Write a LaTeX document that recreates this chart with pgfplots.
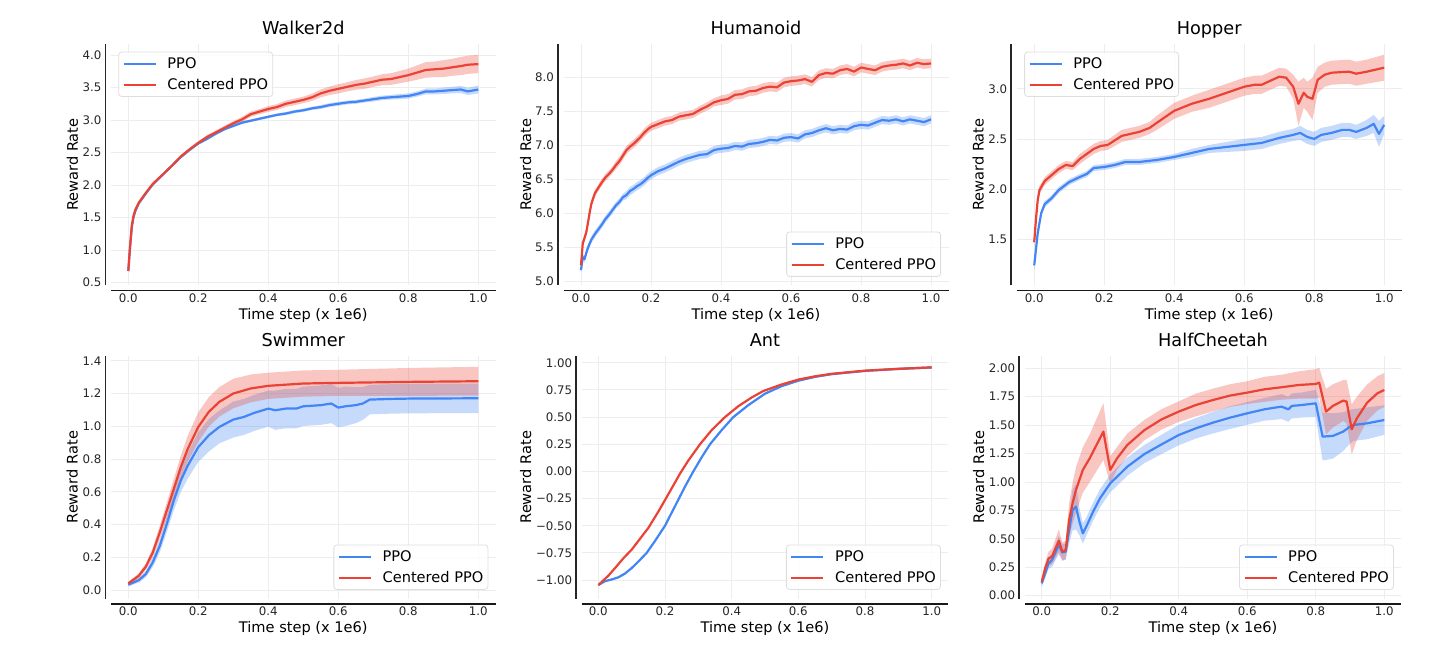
\documentclass[border=0pt]{standalone}
\usepackage{fontspec}
\setmainfont{DejaVu Sans}
\usepackage{pgfplots}
\usepackage{pgfplotstable}
\pgfplotsset{compat=1.18}
\usepgfplotslibrary{fillbetween}

\definecolor{cblue}{HTML}{4285F4}
\definecolor{cred}{HTML}{EA4335}
\newcommand{\tickfont}{\fontsize{11.8}{14}\selectfont}
\newcommand{\labfont}{\fontsize{14.6}{17}\selectfont}
\newcommand{\titfont}{\fontsize{17.7}{21}\selectfont}

% ---------------- data ----------------
\pgfplotstableread{
x m w
0.000 0.68 0.01
0.005 1.05 0.01
0.010 1.35 0.01
0.015 1.51 0.01
0.020 1.60 0.01
0.030 1.72 0.01
0.050 1.87 0.01
0.070 2.01 0.015
0.100 2.17 0.015
0.125 2.30 0.015
0.150 2.43 0.02
0.175 2.54 0.02
0.200 2.64 0.02
0.225 2.71 0.02
0.250 2.79 0.02
0.275 2.86 0.02
0.300 2.91 0.02
0.325 2.96 0.02
0.350 2.99 0.02
0.375 3.02 0.02
0.400 3.05 0.02
0.425 3.08 0.02
0.450 3.10 0.025
0.475 3.13 0.025
0.500 3.15 0.025
0.525 3.18 0.025
0.550 3.20 0.03
0.575 3.23 0.03
0.600 3.25 0.03
0.625 3.27 0.03
0.650 3.28 0.03
0.675 3.30 0.03
0.700 3.32 0.035
0.725 3.34 0.035
0.750 3.35 0.035
0.775 3.36 0.04
0.800 3.37 0.04
0.825 3.40 0.04
0.850 3.44 0.045
0.875 3.44 0.045
0.900 3.45 0.05
0.925 3.46 0.05
0.950 3.47 0.055
0.970 3.44 0.055
1.000 3.47 0.06
}\walkerP
\pgfplotstableread{
x m w
0.000 0.68 0.01
0.005 1.05 0.01
0.010 1.38 0.01
0.015 1.53 0.01
0.020 1.62 0.01
0.030 1.73 0.01
0.050 1.88 0.01
0.070 2.02 0.015
0.100 2.17 0.015
0.125 2.30 0.015
0.150 2.44 0.02
0.175 2.55 0.02
0.200 2.65 0.025
0.225 2.74 0.03
0.250 2.81 0.03
0.275 2.88 0.035
0.300 2.95 0.035
0.325 3.01 0.04
0.350 3.09 0.04
0.375 3.13 0.04
0.400 3.17 0.045
0.425 3.20 0.045
0.450 3.25 0.05
0.475 3.28 0.05
0.500 3.31 0.05
0.525 3.35 0.055
0.550 3.41 0.06
0.575 3.45 0.065
0.600 3.48 0.07
0.625 3.51 0.07
0.650 3.54 0.075
0.675 3.56 0.08
0.700 3.59 0.08
0.725 3.62 0.085
0.750 3.63 0.09
0.775 3.66 0.095
0.800 3.69 0.10
0.825 3.73 0.11
0.850 3.77 0.12
0.875 3.78 0.12
0.900 3.79 0.13
0.925 3.81 0.13
0.950 3.83 0.14
0.970 3.85 0.14
1.000 3.86 0.14
}\walkerC

\pgfplotstableread{
x m w
0.000 5.17 0.05
0.005 5.36 0.05
0.010 5.33 0.05
0.015 5.42 0.05
0.020 5.50 0.05
0.030 5.62 0.05
0.040 5.70 0.05
0.050 5.77 0.05
0.060 5.84 0.05
0.070 5.92 0.05
0.080 5.98 0.05
0.090 6.05 0.05
0.100 6.12 0.05
0.110 6.17 0.05
0.120 6.24 0.05
0.130 6.27 0.06
0.140 6.33 0.06
0.150 6.36 0.06
0.160 6.40 0.06
0.170 6.43 0.06
0.180 6.47 0.06
0.190 6.52 0.06
0.200 6.56 0.06
0.220 6.62 0.06
0.240 6.66 0.06
0.260 6.71 0.06
0.280 6.76 0.06
0.300 6.80 0.06
0.320 6.83 0.06
0.340 6.86 0.06
0.360 6.87 0.06
0.380 6.93 0.06
0.400 6.95 0.06
0.420 6.96 0.06
0.440 6.99 0.06
0.460 6.98 0.06
0.480 7.02 0.06
0.500 7.03 0.06
0.520 7.05 0.06
0.540 7.08 0.06
0.560 7.07 0.06
0.580 7.11 0.06
0.600 7.12 0.06
0.620 7.10 0.06
0.640 7.16 0.06
0.660 7.18 0.06
0.680 7.22 0.06
0.700 7.25 0.06
0.720 7.22 0.06
0.740 7.24 0.06
0.760 7.23 0.06
0.780 7.28 0.06
0.800 7.30 0.06
0.820 7.29 0.06
0.840 7.33 0.06
0.860 7.37 0.06
0.880 7.36 0.06
0.900 7.38 0.06
0.920 7.35 0.06
0.940 7.38 0.06
0.960 7.36 0.06
0.980 7.34 0.06
1.000 7.38 0.06
}\humP
\pgfplotstableread{
x m w
0.000 5.24 0.05
0.005 5.56 0.05
0.010 5.64 0.05
0.015 5.72 0.05
0.020 5.87 0.05
0.025 6.02 0.05
0.030 6.15 0.05
0.040 6.30 0.05
0.050 6.38 0.05
0.060 6.46 0.05
0.070 6.53 0.05
0.080 6.58 0.05
0.090 6.64 0.05
0.100 6.71 0.06
0.110 6.77 0.06
0.120 6.85 0.06
0.130 6.93 0.06
0.140 6.98 0.06
0.150 7.02 0.06
0.160 7.07 0.06
0.170 7.12 0.06
0.180 7.18 0.06
0.190 7.23 0.06
0.200 7.27 0.06
0.220 7.31 0.06
0.240 7.35 0.06
0.260 7.37 0.06
0.280 7.42 0.06
0.300 7.44 0.06
0.320 7.46 0.06
0.340 7.52 0.06
0.360 7.57 0.06
0.380 7.63 0.06
0.400 7.66 0.07
0.420 7.68 0.07
0.440 7.74 0.07
0.460 7.75 0.07
0.480 7.79 0.07
0.500 7.80 0.07
0.520 7.84 0.07
0.540 7.86 0.07
0.560 7.85 0.07
0.580 7.92 0.07
0.600 7.94 0.07
0.620 7.95 0.07
0.640 7.97 0.07
0.660 7.93 0.07
0.680 8.03 0.07
0.700 8.06 0.07
0.720 8.05 0.07
0.740 8.10 0.07
0.760 8.12 0.07
0.780 8.08 0.07
0.800 8.14 0.07
0.820 8.12 0.07
0.840 8.10 0.07
0.860 8.15 0.07
0.880 8.17 0.07
0.900 8.18 0.07
0.920 8.20 0.07
0.940 8.17 0.07
0.960 8.21 0.07
0.980 8.19 0.07
1.000 8.20 0.07
}\humC

\pgfplotstableread{
x m w
0.000 1.24 0.05
0.005 1.40 0.04
0.010 1.56 0.04
0.020 1.76 0.03
0.030 1.85 0.03
0.050 1.91 0.03
0.070 1.99 0.03
0.085 2.03 0.03
0.100 2.07 0.03
0.130 2.12 0.03
0.150 2.15 0.03
0.170 2.21 0.03
0.200 2.22 0.03
0.230 2.24 0.03
0.260 2.27 0.03
0.300 2.27 0.03
0.350 2.29 0.03
0.400 2.32 0.03
0.450 2.36 0.04
0.500 2.40 0.04
0.550 2.42 0.05
0.600 2.44 0.06
0.650 2.46 0.06
0.700 2.51 0.06
0.740 2.54 0.06
0.760 2.56 0.07
0.780 2.52 0.07
0.800 2.50 0.07
0.820 2.54 0.07
0.850 2.56 0.07
0.880 2.59 0.07
0.900 2.59 0.07
0.920 2.57 0.07
0.950 2.61 0.08
0.970 2.65 0.09
0.985 2.55 0.13
1.000 2.64 0.09
}\hopP
\pgfplotstableread{
x m w
0.000 1.47 0.04
0.005 1.70 0.04
0.010 1.89 0.04
0.015 1.99 0.04
0.030 2.08 0.04
0.050 2.14 0.04
0.070 2.20 0.04
0.090 2.24 0.04
0.110 2.23 0.04
0.130 2.30 0.05
0.150 2.35 0.05
0.170 2.40 0.05
0.190 2.43 0.05
0.210 2.44 0.05
0.250 2.53 0.06
0.300 2.57 0.06
0.330 2.61 0.06
0.350 2.66 0.07
0.400 2.78 0.08
0.450 2.85 0.08
0.500 2.90 0.09
0.550 2.96 0.09
0.600 3.02 0.09
0.630 3.04 0.09
0.650 3.04 0.09
0.700 3.12 0.09
0.720 3.11 0.09
0.740 3.02 0.12
0.755 2.85 0.22
0.770 2.96 0.15
0.780 2.92 0.15
0.795 2.90 0.21
0.810 3.09 0.13
0.830 3.14 0.12
0.850 3.16 0.12
0.900 3.17 0.12
0.920 3.15 0.12
0.950 3.17 0.12
1.000 3.21 0.13
}\hopC

\pgfplotstableread{
x m w
0.00 0.033 0.01
0.03 0.061 0.015
0.05 0.098 0.02
0.07 0.170 0.03
0.09 0.271 0.04
0.11 0.404 0.05
0.13 0.547 0.06
0.15 0.669 0.07
0.17 0.761 0.08
0.20 0.873 0.09
0.23 0.945 0.10
0.26 0.996 0.10
0.30 1.041 0.11
0.33 1.057 0.11
0.36 1.082 0.11
0.40 1.108 0.11
0.42 1.098 0.12
0.45 1.108 0.12
0.48 1.108 0.12
0.50 1.122 0.12
0.55 1.129 0.12
0.58 1.139 0.12
0.60 1.114 0.12
0.62 1.122 0.12
0.65 1.129 0.11
0.67 1.139 0.10
0.69 1.163 0.09
0.75 1.167 0.09
0.80 1.169 0.09
1.00 1.171 0.09
}\swimP
\pgfplotstableread{
x m w
0.00 0.041 0.01
0.03 0.088 0.015
0.05 0.143 0.02
0.07 0.230 0.03
0.09 0.353 0.04
0.11 0.486 0.05
0.13 0.618 0.06
0.15 0.751 0.07
0.17 0.863 0.08
0.20 0.996 0.09
0.23 1.088 0.09
0.26 1.149 0.09
0.30 1.200 0.09
0.35 1.231 0.085
0.40 1.247 0.08
0.50 1.261 0.08
0.60 1.265 0.08
0.80 1.271 0.085
1.00 1.275 0.088
}\swimC

\pgfplotstableread{
x m w
0.000 -1.046 0.01
0.020 -1.010 0.01
0.040 -0.995 0.01
0.060 -0.975 0.01
0.080 -0.940 0.01
0.100 -0.890 0.01
0.120 -0.830 0.01
0.145 -0.750 0.01
0.170 -0.640 0.01
0.200 -0.500 0.01
0.230 -0.320 0.01
0.260 -0.140 0.01
0.285 0.000 0.01
0.310 0.130 0.01
0.335 0.250 0.01
0.370 0.380 0.01
0.405 0.500 0.01
0.450 0.610 0.01
0.500 0.715 0.01
0.525 0.750 0.01
0.550 0.785 0.01
0.600 0.835 0.01
0.650 0.870 0.01
0.700 0.895 0.01
0.800 0.925 0.01
0.900 0.943 0.01
1.000 0.957 0.01
}\antP
\pgfplotstableread{
x m w
0.000 -1.046 0.005
0.030 -0.960 0.005
0.050 -0.890 0.005
0.075 -0.800 0.005
0.100 -0.720 0.005
0.125 -0.620 0.005
0.150 -0.520 0.005
0.180 -0.370 0.005
0.210 -0.210 0.005
0.245 -0.020 0.005
0.270 0.100 0.005
0.305 0.250 0.005
0.340 0.380 0.005
0.380 0.500 0.005
0.420 0.600 0.005
0.460 0.680 0.005
0.495 0.740 0.005
0.550 0.800 0.005
0.600 0.845 0.005
0.650 0.875 0.005
0.700 0.898 0.005
0.800 0.927 0.005
0.900 0.944 0.005
1.000 0.957 0.005
}\antC

\pgfplotstableread{
x m w
0.00 0.108 0.03
0.01 0.196 0.04
0.02 0.284 0.05
0.03 0.314 0.06
0.05 0.446 0.08
0.06 0.380 0.07
0.07 0.387 0.07
0.08 0.578 0.12
0.09 0.754 0.18
0.10 0.783 0.20
0.11 0.651 0.12
0.12 0.548 0.09
0.13 0.607 0.08
0.15 0.739 0.08
0.17 0.856 0.08
0.20 0.988 0.08
0.25 1.135 0.08
0.30 1.246 0.08
0.35 1.331 0.085
0.40 1.413 0.09
0.45 1.472 0.09
0.50 1.522 0.095
0.55 1.566 0.10
0.60 1.604 0.10
0.65 1.639 0.10
0.70 1.663 0.11
0.72 1.639 0.11
0.73 1.669 0.11
0.76 1.677 0.11
0.80 1.692 0.12
0.82 1.399 0.21
0.85 1.405 0.20
0.88 1.443 0.17
0.90 1.487 0.15
0.91 1.501 0.14
0.95 1.516 0.14
1.00 1.545 0.13
}\hcP
\pgfplotstableread{
x m w
0.00 0.123 0.03
0.01 0.240 0.05
0.02 0.328 0.06
0.03 0.343 0.07
0.05 0.484 0.10
0.06 0.387 0.08
0.07 0.402 0.08
0.08 0.666 0.15
0.09 0.812 0.18
0.10 0.930 0.20
0.12 1.106 0.20
0.14 1.208 0.21
0.16 1.326 0.23
0.18 1.443 0.25
0.20 1.106 0.12
0.22 1.208 0.10
0.25 1.326 0.10
0.30 1.457 0.09
0.35 1.551 0.09
0.40 1.619 0.09
0.45 1.677 0.10
0.50 1.721 0.10
0.55 1.760 0.10
0.60 1.786 0.10
0.65 1.815 0.11
0.70 1.833 0.11
0.75 1.853 0.12
0.80 1.862 0.13
0.81 1.874 0.13
0.83 1.619 0.20
0.85 1.669 0.19
0.88 1.716 0.18
0.89 1.707 0.19
0.905 1.463 0.22
0.92 1.560 0.19
0.95 1.698 0.16
0.98 1.780 0.15
1.00 1.809 0.15
}\hcC

\newcommand{\series}[3]{%
  \addplot[name path=#3u, draw=none, forget plot] table[x=x, y expr=\thisrow{m}+\thisrow{w}] {#1};
  \addplot[name path=#3l, draw=none, forget plot] table[x=x, y expr=\thisrow{m}-\thisrow{w}] {#1};
  \addplot[fill=#2, fill opacity=0.3, draw=none, forget plot] fill between[of=#3u and #3l];
  \addplot[#2, line width=2.2pt, line join=round] table[x=x, y=m] {#1};
}

\pgfplotsset{
  panel/.style={
    scale only axis, anchor=south west,
    xmin=-0.05, xmax=1.05,
    axis lines*=left,
    axis line style={draw=none},
    major tick length=0pt,
    grid=major,
    major grid style={draw=black!7, line width=0.8pt},
    xtick={0,0.2,0.4,0.6,0.8,1},
    xticklabels={0.0,0.2,0.4,0.6,0.8,1.0},
    ticklabel style={font=\tickfont, text=black!85},
    xticklabel style={inner sep=0pt, anchor=north, yshift=-7.8pt},
    yticklabel style={inner sep=0pt, anchor=east, xshift=-9.3pt},
    xlabel={Time step (x 1e6)},
    xlabel style={font=\labfont, at={(axis description cs:0.5,0)}, anchor=base, yshift=-33.8pt, inner sep=0pt},
    title style={font=\titfont, at={(axis description cs:0.5,1)}, anchor=base, yshift=3.5pt, inner sep=0pt},
    clip=false,
    legend cell align=left,
    legend image code/.code={\draw[##1] (0pt,0pt) -- (32pt,0pt);},
    legend style={font=\labfont, draw=black!13, line width=0.8pt, rounded corners=3pt,
      fill=white, fill opacity=0.8, text opacity=1,
      inner xsep=4pt, inner ysep=4pt, row sep=5.5pt,
      nodes={inner xsep=0.5pt, inner ysep=1.5pt},
      /tikz/every odd column/.append style={column sep=10pt}},
    after end axis/.append code={
      \draw[black!85, line width=1.5pt] ([xshift=-5.5pt]rel axis cs:0,0) -- ([xshift=-5.5pt]rel axis cs:0,1);
      \draw[black!90, line width=1.6pt] ([yshift=-5.2pt]rel axis cs:0,0) -- ([yshift=-5.2pt]rel axis cs:1,0);
      \node[rotate=90, anchor=base, font=\labfont, inner sep=0pt] at ([xshift=-#1pt]rel axis cs:0,0.5) {Reward Rate};
    },
  },
  legUL/.style={legend style={at={(0,1)}, anchor=north west, xshift=7.5pt, yshift=-7.7pt}},
  legLR/.style={legend style={at={(1,0)}, anchor=south east, xshift=-7.5pt, yshift=8.7pt}},
}

\begin{document}
\begin{tikzpicture}
\path (0pt,0pt) rectangle (1456pt,646pt);

% Walker2d
\begin{axis}[panel=33, legUL, at={(110.8pt,360.5pt)}, width=385pt, height=241.5pt,
  title={Walker2d}, ymin=0.457, ymax=4.169,
  ytick={0.5,1,1.5,2,2.5,3,3.5,4}, yticklabels={0.5,1.0,1.5,2.0,2.5,3.0,3.5,4.0}]
  \series{\walkerP}{cblue}{p}
  \series{\walkerC}{cred}{c}
  \legend{PPO,Centered PPO}
\end{axis}

% Humanoid
\begin{axis}[panel=32.5, legLR, at={(563.5pt,360.5pt)}, width=385pt, height=241.5pt,
  title={Humanoid}, ymin=4.944, ymax=8.485,
  ytick={5,5.5,6,6.5,7,7.5,8}, yticklabels={5.0,5.5,6.0,6.5,7.0,7.5,8.0}]
  \series{\humP}{cblue}{p}
  \series{\humC}{cred}{c}
  \legend{PPO,Centered PPO}
\end{axis}

% Hopper
\begin{axis}[panel=33, legUL, at={(1016.7pt,360.5pt)}, width=385pt, height=241.5pt,
  title={Hopper}, ymin=1.039, ymax=3.446,
  ytick={1.5,2,2.5,3}, yticklabels={1.5,2.0,2.5,3.0}]
  \series{\hopP}{cblue}{p}
  \series{\hopC}{cred}{c}
  \legend{PPO,Centered PPO}
\end{axis}

% Swimmer
\begin{axis}[panel=33.1, legLR, at={(110.8pt,47.5pt)}, width=385pt, height=242.5pt,
  title={Swimmer}, ymin=-0.051, ymax=1.429,
  ytick={0,0.2,0.4,0.6,0.8,1,1.2,1.4}, yticklabels={0.0,0.2,0.4,0.6,0.8,1.0,1.2,1.4}]
  \series{\swimP}{cblue}{p}
  \series{\swimC}{cred}{c}
  \legend{PPO,Centered PPO}
\end{axis}

% Ant
\begin{axis}[panel=50.7, legLR, at={(581.7pt,47.5pt)}, width=366.6pt, height=242.5pt,
  title={Ant}, ymin=-1.17, ymax=1.062,
  ytick={-1,-0.75,-0.5,-0.25,0,0.25,0.5,0.75,1},
  yticklabels={−1.00,−0.75,−0.50,−0.25,0.00,0.25,0.50,0.75,1.00}]
  \series{\antP}{cblue}{p}
  \series{\antC}{cred}{c}
  \legend{PPO,Centered PPO}
\end{axis}

% HalfCheetah
\begin{axis}[panel=40.6, legLR, at={(1024.6pt,47.5pt)}, width=376.8pt, height=242.5pt,
  title={HalfCheetah}, ymin=-0.025, ymax=2.108,
  ytick={0,0.25,0.5,0.75,1,1.25,1.5,1.75,2},
  yticklabels={0.00,0.25,0.50,0.75,1.00,1.25,1.50,1.75,2.00}]
  \series{\hcP}{cblue}{p}
  \series{\hcC}{cred}{c}
  \legend{PPO,Centered PPO}
\end{axis}
\end{tikzpicture}
\end{document}
